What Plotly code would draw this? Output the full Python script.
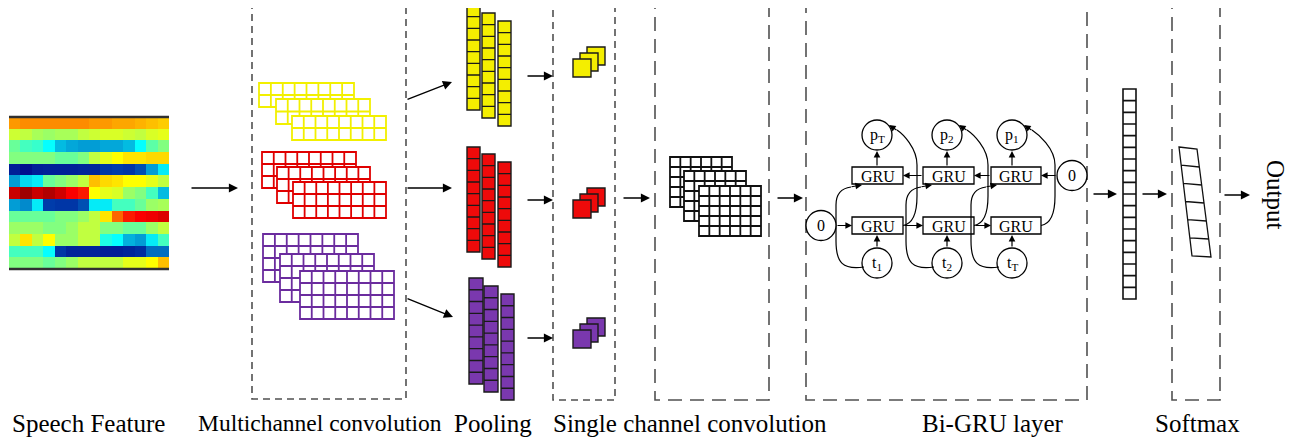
import plotly.graph_objects as go

# ---------------- data ----------------
# Speech feature map (13 frequency rows x 14 time frames), normalised 0..1 (jet colour scale)
speech_feature = [
    [0.68, 0.69, 0.69, 0.69, 0.69, 0.69, 0.69, 0.68, 0.68, 0.67, 0.67, 0.66, 0.65, 0.64],
    [0.56, 0.55, 0.53, 0.52, 0.53, 0.53, 0.55, 0.56, 0.57, 0.57, 0.56, 0.55, 0.57, 0.58],
    [0.48, 0.45, 0.44, 0.40, 0.33, 0.31, 0.30, 0.30, 0.31, 0.31, 0.33, 0.40, 0.47, 0.50],
    [0.50, 0.50, 0.50, 0.50, 0.48, 0.48, 0.50, 0.55, 0.58, 0.60, 0.62, 0.62, 0.63, 0.63],
    [0.10, 0.05, 0.10, 0.11, 0.11, 0.11, 0.12, 0.12, 0.18, 0.20, 0.18, 0.22, 0.30, 0.38],
    [0.30, 0.36, 0.38, 0.48, 0.50, 0.52, 0.55, 0.65, 0.63, 0.62, 0.60, 0.60, 0.58, 0.55],
    [0.88, 0.95, 0.88, 0.92, 0.87, 0.80, 0.78, 0.60, 0.58, 0.57, 0.52, 0.50, 0.45, 0.33],
    [0.30, 0.28, 0.38, 0.20, 0.18, 0.18, 0.22, 0.38, 0.38, 0.45, 0.45, 0.48, 0.52, 0.53],
    [0.48, 0.48, 0.48, 0.48, 0.50, 0.50, 0.52, 0.55, 0.62, 0.72, 0.78, 0.80, 0.82, 0.85],
    [0.52, 0.52, 0.52, 0.50, 0.50, 0.52, 0.55, 0.55, 0.50, 0.50, 0.48, 0.48, 0.52, 0.55],
    [0.55, 0.62, 0.55, 0.60, 0.52, 0.52, 0.55, 0.55, 0.42, 0.40, 0.32, 0.30, 0.38, 0.45],
    [0.45, 0.45, 0.45, 0.40, 0.18, 0.12, 0.12, 0.12, 0.10, 0.10, 0.12, 0.15, 0.25, 0.25],
    [0.50, 0.50, 0.50, 0.48, 0.50, 0.52, 0.55, 0.55, 0.55, 0.55, 0.58, 0.58, 0.60, 0.65],
]
stage_labels = ["Speech Feature", "Multichannel convolution", "Pooling",
                "Single channel convolution", "Bi-GRU layer", "Softmax"]
conv_rows = [2, 3, 4]          # rows of each channel's feature maps
conv_cols = [8, 8, 8]          # columns of each channel's feature maps
pool_cells = [9, 9, 9]         # cells per pooled column
single_rows = 5
single_cols = 6
gru_outputs = ["p<sub>T</sub>", "p<sub>2</sub>", "p<sub>1</sub>"]
gru_inputs = ["t<sub>1</sub>", "t<sub>2</sub>", "t<sub>T</sub>"]
gru_cell_label = "GRU"
init_state_label = "0"
feature_vector_len = 18
softmax_len = 6
output_label = "Output"

# ---------------- styles ----------------
CH_FILL = ["#F4EE00", "#EE0A0A", "#7A38AE"]
CH_LINE = ["#F2F000", "#E00000", "#6B2C9E"]
BOX_GRAY = "#505050"
SERIF = "Liberation Serif"
LABEL_SIZES = [25, 23.5, 25, 25, 25, 25]

# ---------------- layout geometry (pixels of the 1298x441 page) ----------------
W, H = 1298, 441
BODY = 8  # default page margin of the html body
HEAT = dict(x0=9, x1=169, y0=117, y1=269)
MC_BOX = (252, 5, 406, 399)
POOL_BOX = (553, 7, 615, 400)
SC_BOX = (655, 7, 769, 400)
GRU_BOX = (806, 7, 1087, 400)
SM_BOX = (1172, 7, 1220, 400)
conv_grid_pos = [
    [(259, 83, 354, 107), (276, 99, 370, 124), (292, 116, 386, 140)],
    [(262, 152, 356, 188), (277, 167, 370, 203), (293, 182, 386, 218)],
    [(263, 234, 358, 282), (280, 254, 374, 302), (300, 271, 394, 319)],
]
pool_col_pos = [
    [(467, 5, 480, 110), (482, 13, 495, 118), (498, 21, 511, 126)],
    [(467, 147, 480, 252), (482, 154, 495, 259), (498, 162, 511, 267)],
    [(469, 278, 483, 384), (484, 286, 498, 392), (501, 294, 514, 400)],
]
pool_sq_front = [(573, 59), (573, 200), (573, 330)]
SQ = 18
single_grid_pos = [(670, 157, 732, 207), (684, 171, 746, 221), (699, 186, 761, 236)]
gru_x = [(852, 903), (923, 974), (991, 1041)]
GRU_TOP = (167, 184)
GRU_BOT = (217, 234)
circ_x = [877, 947, 1012]
P_Y, T_Y, CR = 135, 263, 15
VEC = (1123, 89, 1136, 299)
SM_PAR = [(1179, 147), (1197, 149), (1211, 257), (1192, 256)]
label_x = [88, 320, 493, 690, 993, 1197]

shapes, annotations = [], []


def rect(x0, y0, x1, y1, color, lw, fill="rgba(0,0,0,0)", dash="solid"):
    shapes.append(dict(type="rect", xref="x", yref="y", x0=x0, y0=y0, x1=x1, y1=y1,
                       line=dict(color=color, width=lw, dash=dash), fillcolor=fill, layer="above"))


def path(d, color="black", lw=1.3, fill="rgba(0,0,0,0)"):
    shapes.append(dict(type="path", xref="x", yref="y", path=d,
                       line=dict(color=color, width=lw), fillcolor=fill, layer="above"))


def grid(x0, y0, x1, y1, nr, nc, color, lw, fill="white"):
    rect(x0, y0, x1, y1, color, lw, fill)
    segs = []
    for i in range(1, nc):
        x = x0 + (x1 - x0) * i / nc
        segs.append(f"M{x:.2f},{y0} L{x:.2f},{y1}")
    for j in range(1, nr):
        y = y0 + (y1 - y0) * j / nr
        segs.append(f"M{x0},{y:.2f} L{x1},{y:.2f}")
    if segs:
        path(" ".join(segs), color, lw)


def arrow(x0, y0, x1, y1, lw=1.3, size=1.4):
    annotations.append(dict(x=x1, y=y1, ax=x0, ay=y0, xref="x", yref="y", axref="x", ayref="y",
                            showarrow=True, arrowhead=2, arrowsize=size, arrowwidth=lw,
                            arrowcolor="black", text=""))


def text(x, y, s, size, angle=0, xanchor="center"):
    annotations.append(dict(x=x, y=y, xref="x", yref="y", text=s, showarrow=False,
                            textangle=angle, xanchor=xanchor, yanchor="middle",
                            font=dict(family=SERIF, size=size, color="black")))


def circle(cx, cy, r, label):
    shapes.append(dict(type="circle", xref="x", yref="y", x0=cx - r, y0=cy - r, x1=cx + r, y1=cy + r,
                       line=dict(color="black", width=1.3), fillcolor="white", layer="above"))
    text(cx, cy, label, 16)


fig = go.Figure()

# speech feature heatmap
nr = len(speech_feature)
nc = len(speech_feature[0])
dx = (HEAT["x1"] - HEAT["x0"]) / nc
dy = (HEAT["y1"] - HEAT["y0"]) / nr
fig.add_trace(go.Heatmap(z=speech_feature, x0=HEAT["x0"] + dx / 2, dx=dx,
                         y0=HEAT["y0"] + dy / 2, dy=dy, colorscale="Jet", zmin=0, zmax=1,
                         showscale=False, hoverinfo="skip"))
for yy in (HEAT["y0"], HEAT["y1"]):
    shapes.append(dict(type="line", xref="x", yref="y", x0=HEAT["x0"], x1=HEAT["x1"], y0=yy, y1=yy,
                       line=dict(color="#303030", width=2.5), layer="above"))
arrow(190, 188, 238, 188)

# dashed stage boxes
rect(*MC_BOX, BOX_GRAY, 1.6, dash="7px,5px")
rect(*POOL_BOX, BOX_GRAY, 1.6, dash="7px,5px")
for b in (SC_BOX, GRU_BOX, SM_BOX):
    rect(*b, BOX_GRAY, 1.6, dash="14px,8px")

# multichannel convolution grids
for ch in range(3):
    for (x0, y0, x1, y1) in conv_grid_pos[ch]:
        grid(x0, y0, x1, y1, conv_rows[ch], conv_cols[ch], CH_LINE[ch], 1.8)

# arrows to pooling
arrow(406, 100, 452, 82)
arrow(406, 188, 452, 188)
arrow(406, 298, 453, 317)

# pooled columns
for ch in range(3):
    for (x0, y0, x1, y1) in pool_col_pos[ch]:
        grid(x0, y0, x1, y1, pool_cells[ch], 1, "#1a1a1a", 1.4, CH_FILL[ch])

# arrows into pooling box
for yy in (76, 200, 338):
    arrow(526, yy, 553, yy)

# stacked pooled squares
for ch in range(3):
    fx, fy = pool_sq_front[ch]
    for k in (2, 1, 0):
        ox, oy = fx + 7 * k, fy - 6 * k
        rect(ox, oy, ox + SQ, oy + SQ, "#1a1a1a", 1.4, CH_FILL[ch])

arrow(622, 198, 650, 198)

# single channel convolution grids
for (x0, y0, x1, y1) in single_grid_pos:
    grid(x0, y0, x1, y1, single_rows, single_cols, "#111111", 1.8)

arrow(776, 198, 803, 198)

# Bi-GRU block
for i, (gx0, gx1) in enumerate(gru_x):
    for (gy0, gy1) in (GRU_TOP, GRU_BOT):
        rect(gx0, gy0, gx1, gy1, "black", 1.3, "white")
        text((gx0 + gx1) / 2, (gy0 + gy1) / 2 + 0.5, gru_cell_label, 16)
    cx = circ_x[i]
    circle(cx, P_Y, CR, gru_outputs[i])
    circle(cx, T_Y, CR, gru_inputs[i])
    arrow(cx, T_Y - CR, cx, GRU_BOT[1] + 1, lw=1.2, size=1.1)
    arrow(cx, GRU_TOP[0], cx, P_Y + CR + 1, lw=1.2, size=1.1)
    # input -> backward GRU (curved)
    path(f"M{cx-13},{T_Y+4} C{cx-34},{T_Y+7} {cx-41},{T_Y} {cx-41},{T_Y-22} "
         f"L{cx-41},{205} C{cx-41},{192} {cx-34},{188} {cx-26},{187}", lw=1.2)
    arrow(cx - 27, 187, cx - 15, GRU_TOP[1] + 1, lw=1.2, size=1.1)
    # forward GRU -> output (curved)
    path(f"M{gx1},{(GRU_BOT[0]+GRU_BOT[1])/2} C{gx1+9},{224} {gx1+14},{216} {gx1+14},{196} "
         f"L{gx1+14},{165} C{gx1+14},{148} {cx+26},{134} {cx+20},{130}", lw=1.2)
    arrow(cx + 21, 131, cx + 12, 125, lw=1.2, size=1.1)

# horizontal recurrent arrows
bot_mid = (GRU_BOT[0] + GRU_BOT[1]) / 2
top_mid = (GRU_TOP[0] + GRU_TOP[1]) / 2
circle(821, bot_mid, CR, init_state_label)
circle(1072, top_mid, CR, init_state_label)
arrow(836, bot_mid, 852, bot_mid, lw=1.2, size=1.1)
arrow(903, bot_mid, 923, bot_mid, lw=1.2, size=1.1)
arrow(974, bot_mid, 991, bot_mid, lw=1.2, size=1.1)
arrow(1057, top_mid, 1041, top_mid, lw=1.2, size=1.1)
arrow(991, top_mid, 974, top_mid, lw=1.2, size=1.1)
arrow(923, top_mid, 903, top_mid, lw=1.2, size=1.1)

# feature vector
arrow(1092, 194, 1117, 194)
grid(*VEC, feature_vector_len, 1, "#111111", 1.6)
arrow(1141, 194, 1167, 194)

# softmax slanted vector
(tlx, tly), (trx, tr_y), (brx, bry), (blx, bly) = SM_PAR
segs = [f"M{tlx},{tly} L{trx},{tr_y} L{brx},{bry} L{blx},{bly} Z"]
for k in range(1, softmax_len):
    f = k / softmax_len
    lx, ly = tlx + (blx - tlx) * f, tly + (bly - tly) * f
    rx, ry = trx + (brx - trx) * f, tr_y + (bry - tr_y) * f
    segs.append(f"M{lx:.2f},{ly:.2f} L{rx:.2f},{ry:.2f}")
path(" ".join(segs), "#111111", 1.3)
arrow(1223, 195, 1250, 195)

text(1276, 195, output_label, 25, angle=90)

# stage labels
for lx, s, fs in zip(label_x, stage_labels, LABEL_SIZES):
    text(lx, 423, s, fs)

fig.update_layout(
    width=W - BODY, height=H - BODY, margin=dict(l=0, r=0, t=0, b=0),
    paper_bgcolor="white", plot_bgcolor="white",
    xaxis=dict(range=[BODY, W], visible=False, fixedrange=True),
    yaxis=dict(range=[H, BODY], visible=False, fixedrange=True),
    shapes=shapes, annotations=annotations, showlegend=False,
)
fig.write_html("out.html", config={"displayModeBar": False})
